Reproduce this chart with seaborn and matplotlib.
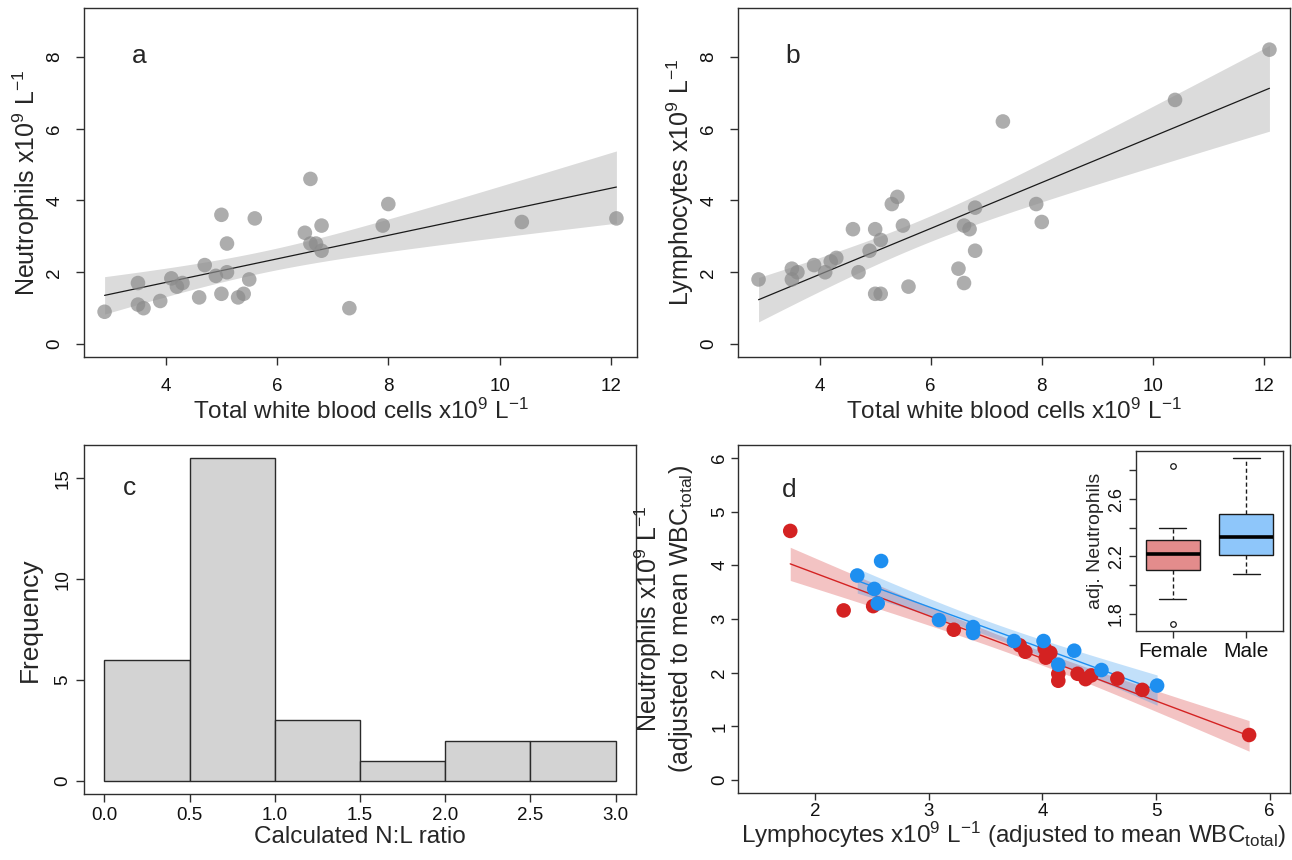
import numpy as np
import pandas as pd
import matplotlib
matplotlib.use("Agg")
import matplotlib.pyplot as plt
import seaborn as sns

# ---------------- data ----------------
wbc = [2.9, 3.5, 3.5, 3.6, 3.9, 4.1, 4.2, 4.3, 4.6, 4.7, 4.9, 5.0, 5.0, 5.1, 5.1,
       5.3, 5.4, 5.5, 5.6, 6.5, 6.6, 6.6, 6.7, 6.8, 6.8, 7.3, 7.9, 8.0, 10.4, 12.1]
neutrophils = [0.9, 1.7, 1.1, 1.0, 1.2, 1.83, 1.6, 1.7, 1.3, 2.2, 1.9, 3.6, 1.4, 2.8, 2.0,
               1.3, 1.4, 1.8, 3.5, 3.1, 4.6, 2.8, 2.8, 3.3, 2.6, 1.0, 3.3, 3.9, 3.4, 3.5]
lymphocytes = [1.8, 2.1, 1.8, 2.0, 2.2, 2.0, 2.3, 2.4, 3.2, 2.0, 2.6, 3.2, 1.4, 2.9, 1.4,
               3.9, 4.1, 3.3, 1.6, 2.1, 3.3, 1.7, 3.2, 3.8, 2.6, 6.2, 3.9, 3.4, 6.8, 8.2]

nl_bin_edges = [0.0, 0.5, 1.0, 1.5, 2.0, 2.5, 3.0]
nl_counts = [6, 16, 3, 1, 2, 2]

female_lymph = [1.78, 2.25, 2.51, 3.22, 3.80, 3.85, 4.02, 4.03, 4.07, 4.14, 4.14,
                4.31, 4.38, 4.43, 4.66, 4.88, 5.82]
female_neut = [4.64, 3.16, 3.24, 2.80, 2.51, 2.39, 2.45, 2.28, 2.37, 1.98, 1.85,
               1.98, 1.88, 1.95, 1.89, 1.68, 0.84]
male_lymph = [2.37, 2.52, 2.55, 2.58, 3.09, 3.39, 3.39, 3.75, 4.01, 4.28, 4.14, 4.52, 5.01]
male_neut = [3.81, 3.56, 3.29, 4.08, 2.98, 2.85, 2.74, 2.59, 2.59, 2.41, 2.15, 2.05, 1.76]

sex_labels = ["Female", "Male"]
female_adj_neut = [1.73, 1.90, 1.98, 2.05, 2.108, 2.14, 2.17, 2.20, 2.214, 2.24, 2.27,
                   2.30, 2.315, 2.34, 2.37, 2.40, 2.83]
male_adj_neut = [2.08, 2.12, 2.17, 2.209, 2.25, 2.29, 2.333, 2.38, 2.43, 2.494, 2.60,
                 2.75, 2.889]

# two-sided 95% t quantiles for the residual degrees of freedom used below
T95 = {28: 2.048, 15: 2.131, 11: 2.201}

# ---------------- style ----------------
sns.set_theme(style="ticks")
plt.rcParams["font.family"] = ["Liberation Sans", "DejaVu Sans"]
plt.rcParams["mathtext.fontset"] = "custom"
plt.rcParams["mathtext.rm"] = "Liberation Sans"
plt.rcParams["mathtext.it"] = "Liberation Sans:italic"
plt.rcParams["mathtext.bf"] = "Liberation Sans:bold"
plt.rcParams["axes.unicode_minus"] = True

W, H = 1292, 860
fig = plt.figure(figsize=(W / 100, H / 100), dpi=100)
fig.patch.set_facecolor("white")


def box(l, t, r, b):
    return [l / W, 1 - b / H, (r - l) / W, (b - t) / H]


EDGE = "#2e2e2e"
LAB = 17.5
YLAB = 18
TICK = 13.5


def style(ax, pad=4, length=6, labelsize=TICK):
    for s in ax.spines.values():
        s.set_color(EDGE)
        s.set_linewidth(1.0)
        s.set_visible(True)
    ax.tick_params(direction="out", length=length, width=1, color=EDGE,
                   labelsize=labelsize, pad=pad, labelcolor="#111")
    for lab in ax.get_yticklabels():
        lab.set_rotation(90)
        lab.set_va("center")
    ax.set_facecolor("white")


def ci_band(ax, x, y, color, alpha):
    """95% confidence band of the least-squares line (as R's predict)."""
    x = np.asarray(x, float)
    y = np.asarray(y, float)
    n = len(x)
    b1, b0 = np.polyfit(x, y, 1)
    grid = np.linspace(x.min(), x.max(), 200)
    fit = b0 + b1 * grid
    resid = y - (b0 + b1 * x)
    s = np.sqrt(np.sum(resid ** 2) / (n - 2))
    se = s * np.sqrt(1 / n + (grid - x.mean()) ** 2 / np.sum((x - x.mean()) ** 2))
    half = T95[n - 2] * se
    ax.fill_between(grid, fit - half, fit + half, color=color, alpha=alpha,
                    linewidth=0, zorder=1)


ax_a = fig.add_axes(box(84, 8, 637, 357))
ax_b = fig.add_axes(box(738, 8, 1290, 357))
ax_c = fig.add_axes(box(84, 445, 636, 794))
ax_d = fig.add_axes(box(738, 445, 1290, 793))
ax_i = fig.add_axes(box(1136, 451, 1283, 631))

point_kws = dict(color="#8a8a8a", alpha=0.7, s=110, edgecolor="none", zorder=3)
line_kws = dict(lw=0.9, color="#1a1a1a", zorder=2)

# ---- panel a ----
ci_band(ax_a, wbc, neutrophils, "#000000", 0.14)
sns.regplot(x=wbc, y=neutrophils, ax=ax_a, color="black", ci=None,
            scatter_kws=point_kws, line_kws=line_kws)
ax_a.set_xlim(2.53, 12.47)
ax_a.set_ylim(-0.36, 9.36)
ax_a.set_xticks([4, 6, 8, 10, 12])
ax_a.set_yticks([0, 2, 4, 6, 8])
ax_a.set_xlabel(r"Total white blood cells x10$^{9}$ L$^{-1}$", fontsize=LAB, labelpad=3)
ax_a.set_ylabel(r"Neutrophils x10$^{9}$ L$^{-1}$", fontsize=YLAB, labelpad=3)
ax_a.text(3.52, 8.03, "a", fontsize=19, ha="center", va="center")
style(ax_a, pad=9)

# ---- panel b ----
ci_band(ax_b, wbc, lymphocytes, "#000000", 0.14)
sns.regplot(x=wbc, y=lymphocytes, ax=ax_b, color="black", ci=None,
            scatter_kws=point_kws, line_kws=line_kws)
ax_b.set_xlim(2.53, 12.47)
ax_b.set_ylim(-0.36, 9.36)
ax_b.set_xticks([4, 6, 8, 10, 12])
ax_b.set_yticks([0, 2, 4, 6, 8])
ax_b.set_xlabel(r"Total white blood cells x10$^{9}$ L$^{-1}$", fontsize=LAB, labelpad=3)
ax_b.set_ylabel(r"Lymphocytes x10$^{9}$ L$^{-1}$", fontsize=YLAB, labelpad=3)
ax_b.text(3.51, 8.03, "b", fontsize=19, ha="center", va="center")
style(ax_b, pad=9)

# ---- panel c ----
mids = [(a + b) / 2 for a, b in zip(nl_bin_edges[:-1], nl_bin_edges[1:])]
sns.histplot(x=mids, weights=nl_counts, bins=nl_bin_edges, ax=ax_c, color="#d3d3d3",
             edgecolor="#2a2a2a", linewidth=1.0, alpha=1)
ax_c.set_xlim(-0.12, 3.12)
ax_c.set_ylim(-0.64, 16.64)
ax_c.set_xticks(nl_bin_edges)
ax_c.set_xticklabels([f"{v:.1f}" for v in nl_bin_edges])
ax_c.set_yticks([0, 5, 10, 15])
ax_c.set_xlabel("Calculated N:L ratio", fontsize=LAB, labelpad=2)
ax_c.set_ylabel("Frequency", fontsize=YLAB + 1, labelpad=9)
ax_c.text(0.146, 14.5, "c", fontsize=19, ha="center", va="center")
style(ax_c, pad=3)

# ---- panel d ----
red, blue = "#d42222", "#1e8ff0"
ci_band(ax_d, female_lymph, female_neut, red, 0.27)
ci_band(ax_d, male_lymph, male_neut, blue, 0.27)
sns.regplot(x=female_lymph, y=female_neut, ax=ax_d, color=red, ci=None,
            scatter_kws=dict(s=110, alpha=1, edgecolor="none", zorder=4),
            line_kws=dict(lw=1.0, zorder=3))
sns.regplot(x=male_lymph, y=male_neut, ax=ax_d, color=blue, ci=None,
            scatter_kws=dict(s=110, alpha=1, edgecolor="none", zorder=4),
            line_kws=dict(lw=1.0, zorder=3))
ax_d.set_xlim(1.32, 6.18)
ax_d.set_ylim(-0.24, 6.24)
ax_d.set_xticks([2, 3, 4, 5, 6])
ax_d.set_yticks([0, 1, 2, 3, 4, 5, 6])
ax_d.set_xlabel(r"Lymphocytes x10$^{9}$ L$^{-1}$ (adjusted to mean WBC$_{\mathrm{total}}$)",
                fontsize=LAB, labelpad=0)
ax_d.set_ylabel("")
ax_d.text(-0.162, 0.5, r"Neutrophils x10$^{9}$ L$^{-1}$", transform=ax_d.transAxes,
          rotation=90, ha="center", va="center", fontsize=YLAB)
ax_d.text(-0.103, 0.5, r"(adjusted to mean WBC$_{\mathrm{total}}$)", transform=ax_d.transAxes,
          rotation=90, ha="center", va="center", fontsize=YLAB)
ax_d.text(1.77, 5.41, "d", fontsize=19, ha="center", va="center")
style(ax_d, pad=2, length=5)

# ---- inset boxplot ----
box_df = pd.DataFrame({
    "sex": [sex_labels[0]] * len(female_adj_neut) + [sex_labels[1]] * len(male_adj_neut),
    "adj": female_adj_neut + male_adj_neut,
})
sns.boxplot(data=box_df, x="sex", y="adj", hue="sex", order=sex_labels, hue_order=sex_labels,
            palette=["#e38c8c", "#8ec6fa"], ax=ax_i, width=0.74, linecolor="#1a1a1a",
            linewidth=1.0, legend=False, saturation=1,
            whiskerprops=dict(linestyle=(0, (3, 2)), color="#1a1a1a"),
            medianprops=dict(linewidth=2.6, color="black"),
            flierprops=dict(marker="o", markersize=4, markerfacecolor="white",
                            markeredgecolor="#1a1a1a", markeredgewidth=0.9))
ax_i.set_xlim(-0.5, 1.5)
ax_i.set_ylim(1.68, 2.935)
ax_i.set_yticks([1.8, 2.0, 2.2, 2.4, 2.6, 2.8])
ax_i.set_yticklabels(["1.8", "", "2.2", "", "2.6", ""])
ax_i.set_xlabel("")
ax_i.set_ylabel("adj. Neutrophils", fontsize=14, labelpad=3)
style(ax_i, pad=3, length=5, labelsize=13)
ax_i.tick_params(axis="x", labelsize=15)

fig.savefig("out.png", dpi=100, facecolor="white")
